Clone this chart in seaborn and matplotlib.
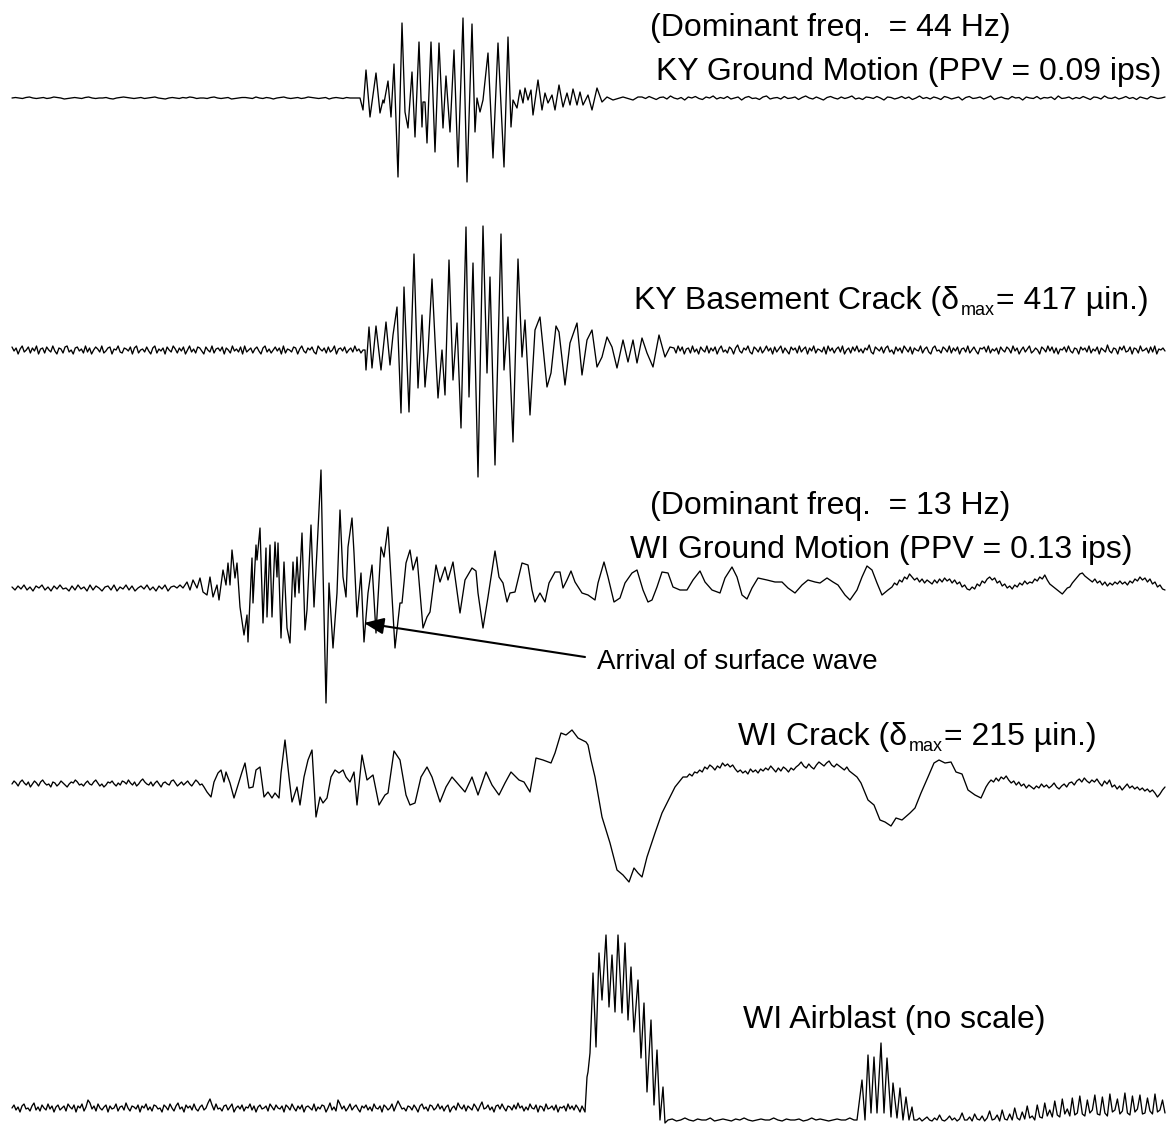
import numpy as np
import pandas as pd
import matplotlib
matplotlib.use("Agg")
import matplotlib.pyplot as plt
import seaborn as sns

# ---------------- data (time in ms, amplitude relative to each trace baseline) -------------
KY_GM_PRE = [0, 0.5, 0, -0.5, 0.5, 1, 0, -0.5, 0, 0.5, -0.5, 0, 1, 0.5, 0, -1, -0.5, 0, 0.5, 0, -0.5, 0.5, 1, 0,
             -0.5, 0, 0, 0.5, -0.5, -1, 0, 0.5, 1, 0.5, 0, -0.5, 0, 0.5, -0.5, 0, 0.5, 1, 0, -0.5, -1, 0, 0.5, 0,
             -0.5, 0.5, 0, 1, 0.5, -0.5, 0, 0, -0.5, 0.5, 1, 0, -0.5, 0, 0.5, -1, -0.5, 0, 0.5, 0.5, 0, -0.5, 1, 0,
             -0.5, 0.5, 0, -1, 0, 0.5, 1, 0, -0.5, 0, 0.5, -0.5, 0, 1, 0.5, 0, -0.5, 0, 0.5, -1, 0, 0.5, 0, -0.5,
             0.5, 0, 0, 0]
KY_GM_T = [348, 351, 354, 358, 364, 368, 371, 372, 376, 379, 382, 386, 390, 393, 396, 400, 403, 407, 410, 411,
           413, 415, 419, 423, 427, 431, 434, 438, 442, 446, 451, 455, 460, 463, 465, 468, 471, 476, 481, 486,
           492, 496, 499, 501, 505, 508, 511, 513, 516, 519, 521, 526, 530, 533, 536, 540, 543, 547, 551, 555,
           558, 561, 565, 568, 571, 576, 580, 585, 590, 595, 601, 611, 621, 626]
KY_GM_A = [0, -12, 28, -19, 25, -15, -2, -5, 17, -19, 34, -79, 75, -14, -30, 26, -39, 56, -29, -4,
           -4, -45, 56, -54, 55, -30, 22, -34, 48, -69, 80, -84, 74, -34, 0, -14, -2, 45, -60, 55,
           -69, 61, -29, -2, -10, 8, -5, 10, -2, 8, -17, 18, -12, 5, -5, 3, -12, 13, -9, 5,
           -7, 9, -7, 6, -7, 3, -12, 10, -4, 1, -2, 1, -2, 1]
KY_GM_POST = [1, -0.5, 1.5, 0, -1.5, 0.5, 1, -1, 2, 0, -1, 0.5, -2, 1, 0, 1.5, -0.5, -1.5, 1, 0, 2, -1, 0.5, -0.5,
              1.5, -1, 0, 1, -2, 0.5, 1.5, -0.5, 0, -1.5, 1, 2, -1, 0, 0.5, -1, 1.5, -0.5, 0, 1, -1.5, 0.5, 2, 0,
              -1, 1, -0.5, -2, 0.5, 1.5, 0, -1, 1, -0.5, 0.5, 2, -1, 0, -1.5, 1, 0.5, -0.5, 1.5, 0, -2, 1, 0.5,
              -1, 0, 1.5, -0.5, 1, -1.5, 0, 2, -0.5, 0.5, -1, 1, 0, -1.5, 1.5, 0.5, -1, 0, 1, -2, 0.5, 1.5, -0.5,
              0, 1, -1, 0.5, 2, -1.5, 0, 1, -0.5, -1, 1.5, 0, 0.5, -2, 1, 0, -0.5, 1.5, -1, 0.5, 0, 1, -1.5, 2,
              -0.5, 0, 1, -1, 0.5, -0.5, 1.5, 0, -1.5, 1, 0.5, -1, 2, 0, -0.5, 1, -1, 0, 1.5, -0.5, 0.5, -1.5, 1,
              0, -1, 1.5, 0.5, -0.5, 0, 1]

KY_CR_PRE = [3, -1, 2, -4, 1, 4, -2, 0, 3, -3, 2, -1, 4, -4, 1, 2, -3, 3, 0, -2, 4, -1, -4, 2, 1, -3, 3, 4, -2, 0,
             -4, 2, 3, -1, 1, -3, 4, -2, 2, -4, 0, 3, 1, -2, 4, -3, -1, 2, 3, -4, 1, 0, 4, -2, -3, 2, 1, -1, 3, -4,
             2, 4, -3, 0, 1, -2, 3, -1, -4, 2, 4, -3, 1, -1, 2, -4, 3, 0, -2, 4, 1, -3, 2, -1, 3, -4, 0, 4, -2, 1,
             -3, 3, 2, -1, -4, 3, 0, -2, 4, -3, 1, 2, -1, 3, -4, 2, 0, -3, 4, -1, 1, -2, 3, -4, 4, -2, 0, 2, -3, 1,
             3, -1, -4, 2, 4, -2, 1, -3, 0, 3, -1, 2, -4, 4, -3, 1, 0, -2, 3, 2, -4, 1, 4, -1, -3, 2, 0, 3, -2, -4,
             4, 1, -1, 2, -3, 3, -2, 0, 4, -4, 1, 2, -1, 3, -3, 0, 2, -2, 4, -1, 1, -3, 0]
KY_CR_T = [353, 354, 357, 360, 364, 369, 374, 378, 381, 385, 389, 392, 397, 402, 406, 410, 413, 416, 420, 424,
           426, 430, 433, 437, 441, 445, 449, 454, 457, 461, 466, 471, 475, 478, 483, 489, 492, 496, 501, 506,
           510, 513, 518, 523, 528, 535, 539, 544, 547, 553, 558, 565, 570, 575, 580, 585, 590, 595, 600, 605,
           611, 616, 621, 625, 630, 635, 641, 647, 653, 658]
KY_CR_A = [0, -20, 23, -18, 24, -20, 28, -15, 15, 43, -63, 63, -62, 96, -38, 35, -37, -2, 71, -10,
           -48, 0, -45, 90, -30, 27, -78, 123, -47, 87, -127, 124, -23, 73, -115, 116, -20, 33, -92, 91,
           -7, 30, -65, 20, 33, -37, -23, 24, 18, -35, 7, 27, -25, 10, 20, -17, -7, 13, 3, -18,
           10, -12, 10, -13, 12, -3, -17, 15, -7, 3]
KY_CR_POST = [2, -3, 4, -1, 3, -4, 1, 2, -3, 4, -2, 1, -4, 3, 0, -2, 4, -3, 2, -1, 3, -4, 1, 4, -2, 0, -3, 3, 1, -4,
              2, 5, -1, -3, 2, 0, 4, -2, -4, 3, 1, -2, 3, -3, 0, 4, -1, 2, -4, 3, -2, 1, 4, -3, 2, -1, -4, 3, 0, 2,
              -3, 4, -2, 1, 3, -4, 2, -1, 4, -3, 1, 0, -2, 3, -4, 4, -1, 2, -3, 1, 3, -2, 4, -4, 0, 2, -3, 3, -1, 4,
              -2, 1, -3, 2, 0, 5, -2, -4, 3, 1, -1, 3, -3, 2, 4, -2, 0, -4, 3, -1, 2, -3, 4, 1, -2, 3, -4, 2, 0, -1,
              4, -3, 1, 3, -2, -4, 2, 4, -1, 0, -3, 3, 1, -2, 4, -3, 2, -1, 3, -4, 1, 2, -2, 4, -3, 0, 3, -1, -4, 2,
              1, 3, -2, 4, -3, 1, -1, 2, -4, 3, 0, -2, 3, 1, -3, 4, -1, 2, -4, 0, 3, -2, 1, 4, -3, -1, 2, 0, -4, 3,
              1, -2, 4, -1, 3, -3, 2, -4, 1, 0, 3, -2, 4, -1, -3, 2, 1, -4, 3, 0, 2, -2, 4, -3, 1, -1, 3, -4, 2, 0,
              -2, 5, -1, -3, 2, 1, -4, 3, 0, 4, -2, -1, 3, -4, 2, 1, -3, 4, -1, 0, 2, -3, 3, -2, 4, -4, 1, 0, 2, -1]

WI_GM_PRE = [1, -2, 2, -1, 3, -2, 1, -3, 2, 0, 3, -2, 1, -3, 2, -1, 3, -1, 0, -3, 2, -2, 3, -1, 1, -3, 3, -2, 2, 0,
             -3, 1, 2, -2, 3, -3, 1, -1, 3, -2, 2, -3, 0, 2, -1, 3, -2, 1, -3, 2, -1, 3, -3, 1, 2, 0]
WI_GM_T = [168, 171, 175, 178, 181, 185, 188, 191, 195, 198, 201, 205, 207, 211, 214, 216, 218, 220, 223, 225,
           228, 232, 235, 236, 240, 241, 244, 245, 248, 251, 254, 255, 258, 260, 263, 265, 266, 269, 272, 275,
           278, 281, 283, 285, 287, 290, 293, 295, 299, 302, 305, 309, 311, 314, 317, 321, 325, 328, 331, 334,
           336, 340, 342, 345, 349, 352, 356, 360, 364, 369, 372, 376, 383, 388, 390, 394, 398, 401, 405, 411,
           415, 418, 424, 428, 433, 436, 441,
           448, 453, 460, 464, 466, 471, 476, 483, 487, 491, 495, 498, 503, 510, 516, 520, 523, 528, 533, 537,
           543, 548, 551, 555, 559, 563, 570, 576, 583, 586, 592, 596, 602, 608, 613, 620, 625, 631, 636, 640,
           645, 650, 656, 661, 668, 675, 681, 688, 693, 700, 708, 713, 720, 725, 730, 735, 740, 746, 755, 763,
           770, 776, 783, 790, 796, 803, 808,
           815, 821, 826, 833, 838, 845, 850, 855, 860, 865, 870, 876]
WI_GM_A = [3, 0, 6, -2, 8, 0, 10, -4, -7, 11, -9, 3, -12, 18, 3, 25, 3, 38, 10, 25,
           -19, -47, -27, -54, 30, -15, 43, 28, 60, -35, 40, -29, 43, -29, 46, 11, 45, -50, 26, -40,
           -55, 26, -9, 31, -5, 55, -42, -22, 63, -19, 38, 118, 18, -115, 5, -60, -5, 78, 11, -9,
           41, 70, 35, -29, 15, -54, -5, 23, -45, 41, 31, 61, -60, -15, -15, 25, 38, 18, 31, -40,
           -29, -24, 23, 6, 21, 8, 26,
           -25, 8, 20, 17, -5, -40, -9, 37, 11, 5, -14, -5, -4, 25, 23, -2, -14, -5, -14, 5,
           16, 16, 0, 8, 17, 6, -5, -7, -12, 5, 26, 11, -14, -10, 5, 15, 18, -2, -14, -12,
           1, 16, 15, 1, -2, -2, 8, 17, 6, -2, -5, 10, 21, 11, -7, -11, 0, 10, 8, 6,
           6, 0, -5, 3, 8, 6, 5,
           10, 6, 3, -7, -12, -2, 11, 22, 18, 5, -7, -2]
WI_GM_TAIL = [1, 5, 3, 8, 6, 11, 9, 14, 11, 8, 10, 6, 9, 5, 8, 6, 4, 8, 5, 9, 6, 10, 7, 9, 5, 8, 4, 6, 1, 3,
              -1, -2, 1, -1, 4, 2, 7, 5, 9, 11, 8, 10, 5, 7, 2, 4, 0, 2, -1, 3, 1, 5, 3, 7, 4, 6, 5, 9, 7, 11,
              9, 13, 8, 4, 2, 0, -2, -4, -6, -3, 0, 1, 5, 8, 11, 14, 15, 12, 10, 8, 6, 9, 5, 7, 3, 6, 2, 5, 3, 6,
              4, 7, 4, 6, 3, 7, 5, 9, 7, 11, 8, 10, 6, 9, 4, 6, 1, 3, -1, -2]

WI_CR_PRE = [0, 3, 1, -2, 2, 4, 1, -1, 2, -3, 0, 3, 1, -2, 2, 4, 1, -1, 0, -3, 2, 1, -2, 0, 3, 1, -1, -3, 0, 2,
             1, 4, 2, -1, 0, -2, 1, 3, 0, -1, 2, 4, 1, -2, 0, -3, -1, 2, 1, 3, 0, -2, 1, -1, 3, 2, 0, 4, 1, -1,
             2, -2, 0, 3, 5, 2, 0, -1, 2, -2, 1, 3, 0, -3, 1, 2, 0, -1, 3, 4, 1, -2, 0, 2, -1, 1, 3, 0, -2, 1,
             4, 2, -1, 0, -3]
WI_CR_T1 = [195, 199, 202, 206, 209, 212, 214, 218, 222, 226, 230, 233, 237, 241, 244, 248, 252, 256, 260, 263,
            267, 269, 273, 277, 280, 285, 288, 292, 296, 300, 304, 308, 311, 315, 319, 323, 327, 331, 334, 338,
            342, 345, 350, 355, 361, 367, 373, 376, 382, 388, 394, 398, 403, 409, 415, 420, 428, 434, 440, 447,
            453, 460, 466, 474, 480, 487, 493, 499, 507, 512, 518, 524, 531, 539, 543, 549, 554, 560, 566, 574,
            576, 579, 583, 590, 598, 605, 611, 617, 622, 626, 630, 635, 643, 650, 658, 663, 671]
WI_CR_A1 = [-8, -13, 2, 11, 14, 2, 12, 1, -14, -1, 12, 21, -4, -3, 14, 17, -13, -8, -14, -9,
            -14, 11, 44, 7, -18, -3, -21, 7, 24, 34, -33, -13, -19, -14, 7, 14, 11, 14, 7, 2,
            12, -21, 29, 4, 9, -21, -11, -9, 33, 24, -11, -21, -19, 7, 17, 7, -18, -3, 7, -1,
            -8, 7, -11, 12, -1, -11, 1, 12, 4, 2, -8, 26, 24, 21, 31, 51, 49, 54, 46, 42,
            39, 24, 7, -33, -59, -86, -91, -98, -84, -89, -93, -73, -49, -29, -13, -3, 7]
WI_CR_MID = [7, 10, 8, 12, 11, 14, 12, 17, 15, 19, 17, 14, 18, 16, 21, 18, 20, 17, 19, 15, 12, 14, 11, 13, 10,
             15, 12, 14, 11, 15, 13, 16, 14, 18, 15, 12, 16, 13, 17, 15, 12, 16, 14, 17, 19, 22, 18, 16, 20, 17,
             15, 19, 22, 20, 18, 21, 23, 19, 17, 20, 18, 16, 14, 17, 13, 11, 9, 7]
WI_CR_T2 = [849, 856, 862, 868, 873, 879, 884, 890, 898, 903, 909, 916, 922, 927, 933, 939, 944, 950, 956, 963, 969]
WI_CR_A2 = [1, -16, -21, -36, -38, -42, -34, -36, -29, -24, -9, 7, 21, 24, 21, 22, 12, 10, -6, -11, -14]
WI_CR_TAIL = [-3, 1, 4, 2, 6, 3, 7, 5, 8, 4, 1, 3, -1, 2, -2, 0, -4, -1, -3, -5, -2, -4, 0, -3, -1, -4, -2, 1,
              -3, -5, -2, 0, -3, 1, 2, -1, 3, 5, 2, 6, 3, 1, 4, 2, 5, 1, -2, 3, 0, 4, -3, -1, -5, -2, -6, -3,
              0, -4, -2, -5, -3, -6, -4, -7, -5, -8, -6, -9, -13, -10, -6, -3]

AIR_PRE = [0, 3, -2, 1, -4, 2, 4, -1, 0, -3, 2, 5, -2, 1, -3, 3, 0, -2, 4, -1, 2, -4, 1, 3, -2, 0, 2, -3, 4, 1,
           -1, 3, -4, 2, 0, 4, -3, 1, 8, 5, -1, 2, -3, 4, 0, -2, 1, 3, -4, 2, -1, 0, 4, -3, 1, 2, -2, 5, 0, -3,
           2, 1, -1, 3, -4, 2, 0, 4, -2, 1, -3, 3, 2, -1, 0, -4, 3, 1, -2, 4, 0, -3, 2, 5, -1, 1, -4, 3, 0, 2,
           -2, 4, -1, -3, 1, 3, -2, 0, 5, 9, 3, -2, 4, -1, 0, -3, 2, 3, -2, 1, 4, -4, 0, 2, -1, 3, -3, 1, 0, 4,
           -2, 2, -4, 1, 3, -1, 0, 2, -3, 4, 1, -2, 3, 0, -1, 2, -4, 3, 1, -2, 4, 0, -3, 2, -1, 3, -4, 1, 2, 0,
           -2, 4, -3, 1, -1, 3, 2, -4, 0, 5, -2, 1, -3, 8, 4, -1, 2, -3, 0, 4, -2, 1, 3, -1, -4, 2, 0, 3, -2, 1,
           -3, 4, 0, -1, 2, -4, 3, 1, -2, 0, 4, -3, 2, 7, 3, -1, 0, -3, 2, 1, -2, 3, 0, -4, 2, 4, -1, 1, -3, 3,
           2, -2, 0, 4, -1, 2, -3, 1, 3, -4, 0, 2, -2, 5, 1, -1, 3, -3, 2, 0, -2, 4, 1, -3, 2, 6, -1, 0, 3, -2,
           1, -4, 2, 3, -1, 4, 0, -3, 2, 1, -2, 3, -1, 5, 0, 2, -3, 1, -2, 4, 0, -1, 3, -4, 2, 1, -3, 4, -1, 0,
           2, -2, 3, -4, 1, 0, 2, -3, 4, -1, 2, -2, 3, 0, -4, 2]
AIR_T = [573, 575, 576, 578, 581, 584, 587, 590, 594, 597, 600, 603, 606, 610, 613, 616, 619, 622, 626, 629,
         632, 635, 639, 642, 645, 648, 651, 653]
AIR_A = [-4, 31, 36, 55, 135, 61, 155, 108, 173, 101, 153, 96, 173, 95, 165, 88, 141, 76, 128, 50,
         105, 16, 88, 3, 58, -12, 21, -15]
AIR_LOW = [-12, -11, -13, -12, -10, -12, -13, -11, -12, -12, -10, -13, -12, -11, -12, -13, -11, -12, -10, -12,
           -13, -12, -11, -12, -12, -10, -12, -13, -11, -12, -12, -11, -13, -12, -10, -12, -11, -12, -13, -12,
           -11, -12, -12, -10, -12]
AIR2_T = [845, 850, 853, 856, 859, 862, 865, 869, 872, 875, 879, 881, 885, 888, 891, 894, 897, 900, 902]
AIR2_A = [-12, 28, -12, 53, -5, 51, -5, 65, -5, 50, -9, 25, -10, 20, -12, 11, -12, 1, -12]
AIR_POST = [-12, -10, -13, -11, -9, -12, -13, -10, -12, -7, -12, -13, -11, -8, -12, -10, -13, -11, -5, -12,
            -12, -9, -13, -6, -11, -12, -8, -13, -10, -3, -12, -11, -7, -13, -2, -11, -12, -6, -12, 0,
            -10, -12, -4, -11, 2, -10, -8, -12, 3, -9,
            -10, 5, -8, -2, -9, 7, -7, -9, 9, -6, -1, -8, 10, -7, -5, 12, -6, -8, 8, -5,
            -2, 13, -6, -7, 11, -5, -8, 14, -4, -2, 9, -6, -3, 15, -5, -7, 12, -4, -1, 13,
            -6, -5, 10, -3, -6, 14, -4, -2, 8, -5]

LABELS = {
    "ky_freq": "(Dominant freq.  = 44 Hz)",
    "ky_gm": "KY Ground Motion (PPV = 0.09 ips)",
    "ky_cr": ("KY Basement Crack (δ", "max", "= 417 µin.)"),
    "wi_freq": "(Dominant freq.  = 13 Hz)",
    "wi_gm": "WI Ground Motion (PPV = 0.13 ips)",
    "arrival": "Arrival of surface wave",
    "wi_cr": ("WI Crack (δ", "max", "= 215 µin.)"),
    "air": "WI Airblast (no scale)",
}


def build(parts):
    ts, vs = [], []
    for p in parts:
        if p[0] == "noise":
            _, t0, t1, vals = p
            ts.extend(np.linspace(t0, t1, len(vals)))
            vs.extend(vals)
        else:
            _, tt, aa = p
            ts.extend(tt)
            vs.extend(aa)
    return np.asarray(ts, float), np.asarray(vs, float)


traces = {
    "KY Ground Motion": build([("noise", 0, 345, KY_GM_PRE), ("pts", KY_GM_T, KY_GM_A),
                               ("noise", 630, 1153, KY_GM_POST)]),
    "KY Basement Crack": build([("noise", 0, 351, KY_CR_PRE), ("pts", KY_CR_T, KY_CR_A),
                                ("noise", 662, 1153, KY_CR_POST)]),
    "WI Ground Motion": build([("noise", 0, 165, WI_GM_PRE), ("pts", WI_GM_T, WI_GM_A),
                               ("noise", 880, 1153, WI_GM_TAIL)]),
    "WI Crack": build([("noise", 0, 192, WI_CR_PRE), ("pts", WI_CR_T1, WI_CR_A1),
                       ("noise", 675, 845, WI_CR_MID), ("pts", WI_CR_T2, WI_CR_A2),
                       ("noise", 974, 1153, WI_CR_TAIL)]),
    "WI Airblast": build([("noise", 0, 570, AIR_PRE), ("pts", AIR_T, AIR_A),
                          ("noise", 656, 842, AIR_LOW), ("pts", AIR2_T, AIR2_A),
                          ("noise", 905, 1153, AIR_POST)]),
}

# ---------------- layout ----------------
BASELINE = {"KY Ground Motion": 98, "KY Basement Crack": 350, "WI Ground Motion": 588,
            "WI Crack": 784, "WI Airblast": 1108}
X0 = 12  # pixel column of t = 0

sns.set_theme(style="white")
plt.rcParams["font.family"] = ["Liberation Sans", "DejaVu Sans"]

W, H = 1167, 1131
fig = plt.figure(figsize=(W / 100, H / 100), dpi=100)
fig.patch.set_facecolor("white")
ax = fig.add_axes([0, 0, 1, 1])
ax.set_facecolor("white")

for name, (t, a) in traces.items():
    df = pd.DataFrame({"t": t, "y": -BASELINE[name] + a})
    sns.lineplot(data=df, x="t", y="y", sort=False, estimator=None, color="black",
                 linewidth=0.95, ax=ax)

ax.set_xlim(-X0, W - X0)
ax.set_ylim(-H, 0)
ax.axis("off")

renderer = fig.canvas.get_renderer()
inv = ax.transData.inverted()


def put(key, xpx, ypx, size=23):
    ax.text(xpx - X0, -ypx, LABELS[key], fontsize=size, color="black", ha="left", va="baseline")


def put_sub(key, xpx, ypx, size=23, subsize=13, drop=6, gap=1.5):
    pre, sub, post = LABELS[key]
    t1 = ax.text(xpx - X0, -ypx, pre, fontsize=size, color="black", ha="left", va="baseline")
    x1 = inv.transform((t1.get_window_extent(renderer).x1, 0))[0]
    t2 = ax.text(x1 + gap, -ypx - drop, sub, fontsize=subsize, color="black", ha="left", va="baseline")
    x2 = inv.transform((t2.get_window_extent(renderer).x1, 0))[0]
    ax.text(x2 + gap, -ypx, post, fontsize=size, color="black", ha="left", va="baseline")


put("ky_freq", 650, 36)
put("ky_gm", 656, 80)
put_sub("ky_cr", 634, 309)
put("wi_freq", 650, 514)
put("wi_gm", 630, 558)
put("arrival", 597, 669, size=20)
put_sub("wi_cr", 738, 745)
put("air", 743, 1028)

ax.annotate("", xy=(364 - X0, -623), xytext=(585 - X0, -657),
            arrowprops=dict(arrowstyle="-|>,head_length=0.6,head_width=0.25", color="black",
                            lw=1.5, mutation_scale=20, shrinkA=0, shrinkB=0))

fig.savefig("out.png", dpi=100, facecolor="white")
